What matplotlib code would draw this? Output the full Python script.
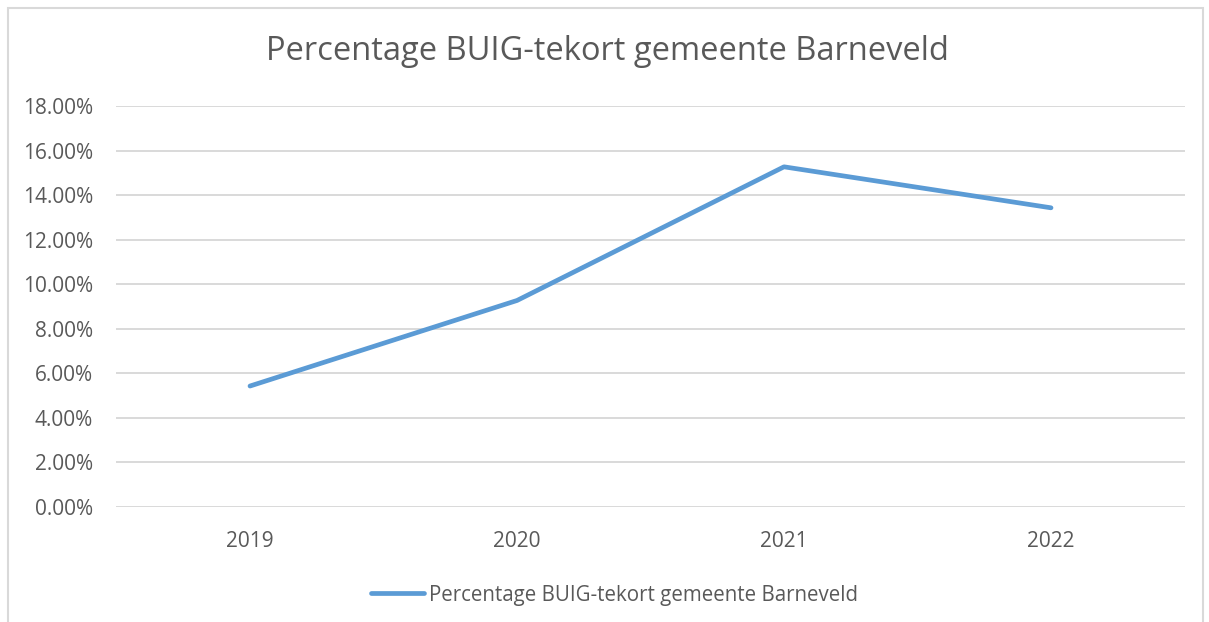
import matplotlib
matplotlib.use("Agg")
import matplotlib.pyplot as plt
from matplotlib.patches import Rectangle

# data
years = ["2019", "2020", "2021", "2022"]
tekort_pct = [5.43, 9.27, 15.27, 13.43]
y_ticks = [0, 2, 4, 6, 8, 10, 12, 14, 16, 18]
series_name = "Percentage BUIG-tekort gemeente Barneveld"

plt.rcParams['font.family'] = ['Open Sans', 'DejaVu Sans']
text_col = "#595959"
grid_col = "#d9d9d9"
line_col = "#5b9bd5"

fig = plt.figure(figsize=(12.09, 6.22), dpi=100)
ax = fig.add_axes([116.5 / 1209, 1 - 507 / 622, 1068 / 1209, 401 / 622])

x = list(range(len(years)))
ax.plot(x, tekort_pct, color=line_col, linewidth=3.4, solid_capstyle="round",
        solid_joinstyle="round", label=series_name)

ax.set_xlim(-0.5, len(years) - 0.5)
ax.set_ylim(0, 18)
ax.set_yticks(y_ticks)
ax.set_yticklabels(["%.2f%%" % v for v in y_ticks])
ax.set_xticks(x)
ax.set_xticklabels(years)
ax.tick_params(axis="both", length=0, labelsize=15, colors=text_col)
ax.tick_params(axis="y", pad=17)
ax.tick_params(axis="x", pad=17)
ax.grid(axis="y", color=grid_col, linewidth=1.4)
ax.set_axisbelow(True)
for s in ax.spines.values():
    s.set_visible(False)

fig.text(0.5 + 3 / 1209, 1 - 52 / 622, series_name, ha="center", va="center",
         fontsize=23.5, color=text_col)

leg = fig.legend(loc="center", bbox_to_anchor=(0.5 + 10 / 1209, 1 - 595 / 622),
                 frameon=False, fontsize=14.8, handlelength=2.6, handletextpad=0.25)
for t in leg.get_texts():
    t.set_color(text_col)

# chart border
fig.patches.append(Rectangle((8 / 1209, -0.1), 1195 / 1209, 1.1 - 8 / 622,
                             transform=fig.transFigure, fill=False,
                             edgecolor=grid_col, linewidth=1.5))

fig.savefig("out.png", dpi=100)
